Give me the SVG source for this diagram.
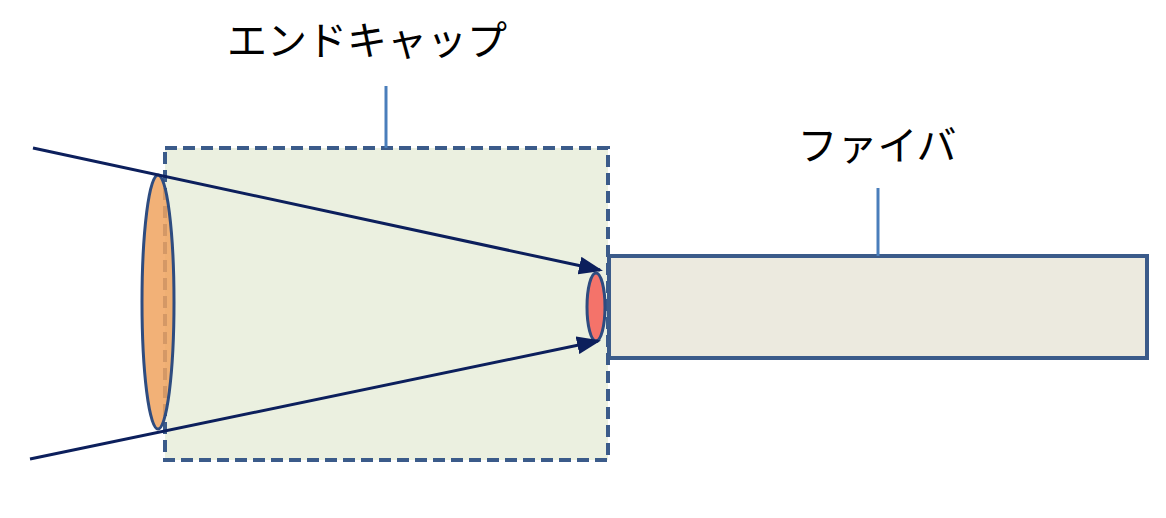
<svg xmlns="http://www.w3.org/2000/svg" width="1166" height="518" viewBox="0 0 1166 518">
<defs>
<marker id="ah" markerWidth="8" markerHeight="6" refX="7" refY="3" orient="auto" markerUnits="strokeWidth"><path d="M0,0 L8,3 L0,6 z" fill="#0c1f5c"/></marker>
<style>
.lbl{font-family:"Noto Sans CJK JP",sans-serif;font-size:40px;fill:#000}
.lead{stroke:#4a7ebb;stroke-width:3;fill:none}
.ray{stroke:#0c1f5c;stroke-width:3;fill:none;marker-end:url(#ah)}
</style>
</defs>
<rect width="1166" height="518" fill="#fff"/>
<g id="endcap"><rect x="165" y="148" width="443" height="312" fill="#ebf0e0" stroke="#3b5b8a" stroke-width="4" stroke-dasharray="12,6"/></g>
<g id="fiber"><rect x="609" y="256" width="538" height="102" fill="#eceadf" stroke="#3b5b8a" stroke-width="4"/></g>
<g id="lens"><ellipse cx="158" cy="302" rx="16" ry="127" fill="#f0a35f" fill-opacity="0.85" stroke="#2e4c80" stroke-width="3"/></g>
<g id="spot"><ellipse cx="596" cy="307" rx="9" ry="34" fill="#f4736a" stroke="#2e4c80" stroke-width="3"/></g>
<g id="connectors">
<line class="ray" x1="33" y1="148" x2="600" y2="270"/>
<line class="ray" x1="30" y1="459" x2="598" y2="341"/>
<line class="lead" x1="386" y1="86" x2="386" y2="148"/>
<line class="lead" x1="878" y1="188" x2="878" y2="256"/>
</g>
<g id="label-endcap"><text class="lbl" x="367" y="55" text-anchor="middle">エンドキャップ</text></g>
<g id="label-fiber"><text class="lbl" x="877" y="160" text-anchor="middle">ファイバ</text></g>
</svg>
